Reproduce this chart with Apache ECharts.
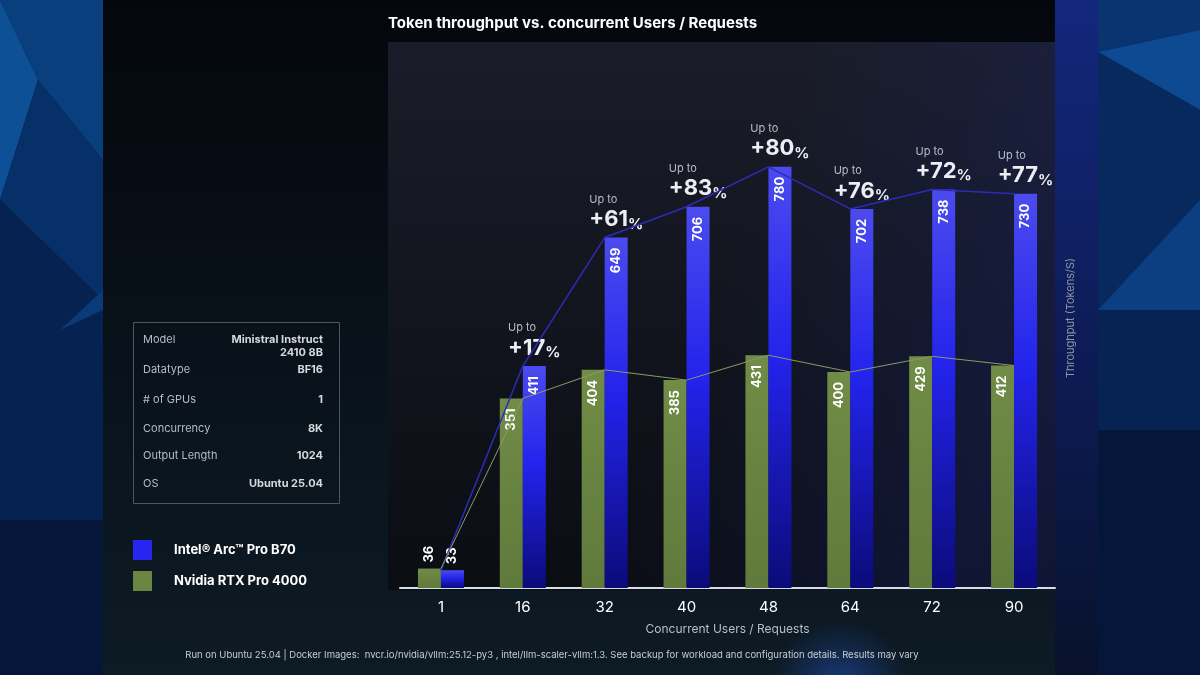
<!DOCTYPE html>
<html lang="en">
<head>
    <meta charset="UTF-8">
    <title>Token throughput vs. concurrent Users / Requests</title>
    <style>
        html,body{margin:0;padding:0;width:1200px;height:675px;overflow:hidden;background:#070c14;}
        #chart{width:1200px;height:675px;}
    </style>
    <script src="https://cdn.jsdelivr.net/npm/echarts@6/dist/echarts.min.js"></script>
</head>
<body>
<div id="chart"></div>
<script>
    // values
    const categories = ['1', '16', '32', '40', '48', '64', '72', '90'];
    const intelValues = [33, 411, 649, 706, 780, 702, 738, 730];
    const nvidiaValues = [36, 351, 404, 385, 431, 400, 429, 412];
    const upliftLabels = [null, '+17', '+61', '+83', '+80', '+76', '+72', '+77'];
    const specLabels = ['Model', 'Datatype', '# of GPUs', 'Concurrency', 'Output Length', 'OS'];
    const specValues = ['Ministral Instruct\n2410 8B', 'BF16', '1', '8K', '1024', 'Ubuntu 25.04'];
    const seriesNames = ['Intel® Arc™ Pro B70', 'Nvidia RTX Pro 4000'];

    const FONT = 'Inter, "Noto Sans", sans-serif';
    const specY = [345, 370, 400, 429, 456, 484];

    function barData(values) {
        return values.map(function (v, i) {
            if (i === 0) {
                return {value: v, label: {position: 'top', align: 'left', distance: 6}};
            }
            return v;
        });
    }

    function specGraphics() {
        let items = [{
            type: 'rect',
            shape: {x: 133.5, y: 322.5, width: 206, height: 181},
            style: {fill: 'rgba(0,0,0,0)', stroke: '#4a5661', lineWidth: 1}
        }];
        specLabels.forEach(function (l, i) {
            items.push({
                type: 'text', x: 143, y: i === 0 ? 340 : specY[i],
                style: {text: l, fill: '#b4bcc4', font: '11px ' + FONT, verticalAlign: 'middle'}
            });
            items.push({
                type: 'text', x: 323, y: i === 0 ? 333 : specY[i],
                style: {
                    text: specValues[i], fill: '#d4d8dc', font: 'bold 11px ' + FONT,
                    align: 'right', verticalAlign: i === 0 ? 'top' : 'middle', lineHeight: 13
                }
            });
        });
        return items;
    }

    let myChart = echarts.init(document.getElementById('chart'));
    let option = {
        backgroundColor: '#070c14',
        animation: false,
        title: {
            text: 'Token throughput vs. concurrent Users / Requests',
            left: 383,
            top: 11,
            textStyle: {color: '#ffffff', fontSize: 15, fontWeight: 'bold', fontFamily: FONT}
        },
        legend: {
            orient: 'vertical',
            left: 133,
            top: 540,
            padding: 0,
            itemWidth: 19,
            itemHeight: 20,
            itemGap: 11,
            selectedMode: false,
            textStyle: {color: '#ffffff', fontSize: 13, fontWeight: 'bold', fontFamily: FONT, padding: [0, 0, 0, 17]},
            data: [
                {name: seriesNames[0], icon: 'rect', itemStyle: {color: '#2626ee'}},
                {name: seriesNames[1], icon: 'rect', itemStyle: {color: '#6a8540'}}
            ]
        },
        grid: {left: 400, right: 145, top: 48, bottom: 87},
        xAxis: {
            type: 'category',
            data: categories,
            axisTick: {show: false},
            axisLine: {lineStyle: {color: '#d8dce4', width: 2}},
            axisLabel: {color: '#ffffff', fontSize: 15, fontFamily: FONT, margin: 12},
            name: 'Concurrent Users / Requests',
            nameLocation: 'middle',
            nameGap: 35,
            nameTextStyle: {color: '#b8bec8', fontSize: 12, fontFamily: FONT}
        },
        yAxis: {
            type: 'value',
            position: 'right',
            min: 0,
            max: 1000,
            axisLine: {show: false},
            axisTick: {show: false},
            axisLabel: {show: false},
            splitLine: {show: false},
            name: 'Throughput (Tokens/S)',
            nameLocation: 'middle',
            nameGap: 10,
            nameTextStyle: {color: '#8e96a2', fontSize: 11, fontFamily: FONT}
        },
        graphic: [
            // backdrop
            {
                type: 'rect', z: -10, shape: {x: 0, y: 0, width: 1200, height: 675},
                style: {fill: new echarts.graphic.LinearGradient(0, 0, 0, 1, [
                    {offset: 0, color: '#04070d'}, {offset: 1, color: '#0d1b25'}])}
            },
            {
                type: 'ellipse', z: -9, shape: {cx: 840, cy: 690, rx: 330, ry: 70},
                style: {fill: new echarts.graphic.RadialGradient(0.5, 0.5, 0.5, [
                    {offset: 0, color: 'rgba(40,90,200,0.55)'}, {offset: 1, color: 'rgba(30,80,190,0)'}])}
            },
            {
                type: 'rect', z: -9, shape: {x: 1055, y: 0, width: 43, height: 675},
                style: {fill: new echarts.graphic.LinearGradient(0, 0, 0, 1, [
                    {offset: 0, color: '#13277c'}, {offset: 0.6, color: '#0c1a50'}, {offset: 1, color: '#08122c'}])}
            },
            // left strip
            {type: 'rect', z: -8, shape: {x: 0, y: 0, width: 103, height: 675}, style: {fill: '#04173a'}},
            {type: 'polygon', z: -7, shape: {points: [[0, 0], [103, 0], [103, 160], [38, 80]]}, style: {fill: '#0a3f7d'}},
            {type: 'polygon', z: -7, shape: {points: [[0, 0], [38, 80], [0, 200]]}, style: {fill: '#0d5096'}},
            {type: 'polygon', z: -7, shape: {points: [[38, 80], [103, 160], [103, 300], [0, 200]]}, style: {fill: '#073068'}},
            {type: 'polygon', z: -7, shape: {points: [[0, 200], [103, 300], [103, 520], [0, 520]]}, style: {fill: '#052250'}},
            {type: 'polygon', z: -7, shape: {points: [[103, 290], [103, 310], [60, 330]]}, style: {fill: '#0a3a78'}},
            // right strip
            {type: 'rect', z: -8, shape: {x: 1098, y: 0, width: 102, height: 675}, style: {fill: '#04163a'}},
            {type: 'polygon', z: -7, shape: {points: [[1098, 0], [1200, 0], [1200, 30], [1098, 52]]}, style: {fill: '#0a3470'}},
            {type: 'polygon', z: -7, shape: {points: [[1098, 52], [1200, 30], [1200, 110]]}, style: {fill: '#0d4a92'}},
            {type: 'polygon', z: -7, shape: {points: [[1098, 52], [1200, 110], [1200, 310], [1098, 310]]}, style: {fill: '#07295e'}},
            {type: 'polygon', z: -7, shape: {points: [[1098, 310], [1200, 200], [1200, 310]]}, style: {fill: '#0c3f82'}},
            {type: 'polygon', z: -7, shape: {points: [[1098, 310], [1200, 310], [1200, 430], [1098, 430]]}, style: {fill: '#062354'}},
            // plot panel
            {
                type: 'rect', z: -6, shape: {x: 388, y: 42, width: 667, height: 548},
                style: {fill: new echarts.graphic.LinearGradient(0, 0, 0, 1, [
                    {offset: 0, color: '#1a1d29'}, {offset: 1, color: '#0a0d12'}])}
            },
            {
                type: 'rect', z: -5, shape: {x: 388, y: 42, width: 667, height: 548},
                style: {fill: new echarts.graphic.LinearGradient(0, 0, 1, 0.5, [
                    {offset: 0.55, color: 'rgba(30,40,120,0)'}, {offset: 1, color: 'rgba(30,40,130,0.3)'}])}
            },
            {
                type: 'text', x: 552, y: 655,
                style: {
                    text: 'Run on Ubuntu 25.04 | Docker Images:  nvcr.io/nvidia/vllm:25.12-py3 , intel/llm-scaler-vllm:1.3. See backup for workload and configuration details. Results may vary',
                    fill: '#c8ccd4', font: '9.5px ' + FONT, align: 'center', verticalAlign: 'middle'
                }
            }
        ].concat(specGraphics()),
        series: [
            {
                name: seriesNames[1],
                type: 'bar',
                barWidth: 23,
                barGap: '0%',
                data: barData(nvidiaValues),
                itemStyle: {color: new echarts.graphic.LinearGradient(0, 0, 0, 1, [
                    {offset: 0, color: '#708c46'}, {offset: 1, color: '#5f7a3b'}])},
                label: {
                    show: true, position: 'insideTop', rotate: 90, align: 'right', verticalAlign: 'middle',
                    distance: 10, color: '#ffffff', fontSize: 13, fontWeight: 'bold', fontFamily: FONT
                }
            },
            {
                name: seriesNames[0],
                type: 'bar',
                stack: 'intel',
                barWidth: 23,
                barGap: '0%',
                data: barData(intelValues),
                itemStyle: {color: new echarts.graphic.LinearGradient(0, 0, 0, 1, [
                    {offset: 0, color: '#4b4bef'}, {offset: 0.45, color: '#2323ec'}, {offset: 1, color: '#0b0b7a'}])},
                label: {
                    show: true, position: 'insideTop', rotate: 90, align: 'right', verticalAlign: 'middle',
                    distance: 10, color: '#ffffff', fontSize: 13, fontWeight: 'bold', fontFamily: FONT
                }
            },
            {
                name: 'uplift',
                type: 'bar',
                stack: 'intel',
                barWidth: 23,
                data: upliftLabels.map(function () { return 0; }),
                itemStyle: {color: 'rgba(0,0,0,0)'},
                label: {
                    show: true,
                    position: 'top',
                    distance: 6,
                    formatter: function (p) {
                        let u = upliftLabels[p.dataIndex];
                        return u ? '{a|Up to}\n{b|' + u + '}{c|%}' : '';
                    },
                    rich: {
                        a: {fontSize: 11, color: '#b9bdc8', fontFamily: FONT, lineHeight: 16, align: 'left'},
                        b: {fontSize: 22, color: '#eceef4', fontWeight: 'bold', fontFamily: FONT, lineHeight: 24},
                        c: {fontSize: 15, color: '#eceef4', fontWeight: 'bold', fontFamily: FONT, lineHeight: 24, verticalAlign: 'bottom'}
                    }
                }
            },
            {
                type: 'line',
                data: intelValues,
                symbol: 'none',
                z: 3,
                lineStyle: {color: '#2c2cb8', width: 1.5}
            },
            {
                type: 'line',
                data: nvidiaValues,
                symbol: 'none',
                z: 3,
                lineStyle: {color: '#8a9a66', width: 1}
            }
        ]
    };
    myChart.setOption(option);
</script>
</body>
</html>
